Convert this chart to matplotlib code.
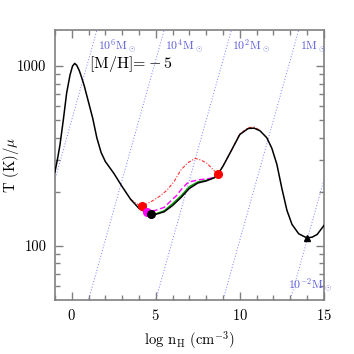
import matplotlib
matplotlib.use("Agg")
import matplotlib.pyplot as plt
import numpy as np
from matplotlib.ticker import FixedLocator, NullFormatter, FuncFormatter

plt.rcParams['font.family'] = ['cmr10', 'DejaVu Serif']
plt.rcParams['mathtext.fontset'] = 'cm'
plt.rcParams['axes.formatter.use_mathtext'] = True

# ---- data (log n_H, T/mu) ----
black_x = [-1.0, -0.85, -0.7, -0.5, -0.3, -0.1, 0.05, 0.18, 0.3, 0.45, 0.6, 0.75, 1.0,
           1.25, 1.5, 1.75, 2.0, 2.5, 3.0, 3.5, 4.0, 4.5, 5.0, 5.5, 6.0, 6.5, 7.0,
           7.5, 8.0, 8.5, 8.7, 9.0, 9.5, 10.0, 10.5, 10.85, 11.2, 11.6, 11.9, 12.2,
           12.5, 12.8, 13.1, 13.5, 13.98, 14.3, 14.6, 15.0]
black_T = [257, 302, 363, 500, 708, 891, 1000, 1035, 1010, 945, 860, 775, 631,
           513, 398, 331, 295, 254, 214, 182, 162, 152, 150, 155, 168, 186, 209,
           224, 230, 240, 251, 278, 340, 417, 450, 452, 437, 400, 350, 285,
           209, 158, 132, 117, 111, 112, 116, 130]

red_x = [3.5, 3.9, 4.19, 4.5, 4.88, 5.3, 5.68, 6.1, 6.47, 6.9, 7.35, 7.7, 8.05, 8.4, 8.68,
         9.0, 9.5, 10.0, 10.5, 10.85, 11.2]
red_T = [182, 171, 167, 172, 180, 191, 205, 229, 263, 290, 307, 300, 288, 266, 251,
         278, 340, 420, 455, 458, 440]

mag_x = [4.3, 4.49, 5.0, 5.5, 6.0, 6.27, 6.47, 6.86, 7.06, 7.65, 8.05, 8.44, 8.68]
mag_T = [153, 155, 158, 164, 182, 192, 204, 223, 228, 234, 236, 240, 251]

green_x = [4.69, 5.0, 5.5, 6.0, 6.5, 7.0, 7.5, 8.0, 8.5, 8.7]
green_T = [151, 151, 157, 172, 190, 214, 227, 232, 241, 251]

red_pts_x = [4.19, 8.68]
red_pts_T = [167, 251]
mag_pt = (4.49, 155)
black_pt = (4.69, 151)
tri_pt = (13.98, 111)

jeans_masses = [1e6, 1e4, 1e2, 1.0, 1e-2]
jeans_labels = [r'10$^6$M$_\odot$', r'10$^4$M$_\odot$', r'10$^2$M$_\odot$', r'1M$_\odot$', r'10$^{-2}$M$_\odot$']
jeans_const = 3.9  # log n = 3 log T - 2 log M + const

fig = plt.figure(figsize=(3.54, 3.54), dpi=100)
ax = fig.add_axes([0.155, 0.1525, 0.76, 0.7625])

xmin, xmax = -1, 15
ymin, ymax = 10**1.7, 10**3.2

# Jeans mass lines
ln = np.array([xmin - 5, xmax + 5])
for m in jeans_masses:
    lt = (ln + 2*np.log10(m) - jeans_const) / 3.0
    ax.plot(ln, 10**lt, ls=(0, (1, 2)), color='#7b7bff', lw=0.7, zorder=1)

blue = '#5a5ad8'
lab_pos = [(1.55, 10**3.11), (5.55, 10**3.11), (9.55, 10**3.11), (13.55, 10**3.11)]
for (xx, yy), t in zip(lab_pos, jeans_labels[:4]):
    ax.text(xx, yy, t, color=blue, fontsize=8.5, ha='left', va='center')
ax.text(12.85, 10**1.78, jeans_labels[4], color=blue, fontsize=8.5, ha='left', va='center')

ax.plot(red_x, red_T, color='#ff3030', lw=0.8, ls=(0, (3, 1.5, 1, 1.5)), zorder=2)
ax.plot(green_x, green_T, color='#00a000', lw=1.0, zorder=3)
ax.plot(mag_x, mag_T, color='#ff00ff', lw=1.0, ls=(0, (4, 2)), zorder=3)
ax.plot(black_x, black_T, color='black', lw=1.1, zorder=4)

ax.plot(red_pts_x, red_pts_T, 'o', color='red', ms=5.5, zorder=5)
ax.plot([mag_pt[0]], [mag_pt[1]], 'o', color='#ff00ff', ms=5.5, zorder=5)
ax.plot([black_pt[0]], [black_pt[1]], 'o', color='black', ms=5.5, zorder=6)
ax.plot([tri_pt[0]], [tri_pt[1]], '^', color='black', ms=4.5, zorder=6)

ax.text(1.05, 10**3.01, r'$[\mathrm{M/H}]\!=\!-5$', fontsize=11.5, ha='left', va='center')

ax.set_yscale('log')
ax.set_xlim(xmin, xmax)
ax.set_ylim(ymin, ymax)

ax.xaxis.set_major_locator(FixedLocator([0, 5, 10, 15]))
ax.xaxis.set_minor_locator(FixedLocator(list(range(-1, 16))))
ax.yaxis.set_major_locator(FixedLocator([100, 1000]))
ax.yaxis.set_minor_locator(FixedLocator([60, 70, 80, 90, 200, 300, 400, 500, 600, 700, 800, 900]))
ax.yaxis.set_major_formatter(FuncFormatter(lambda v, p: '%d' % v))
ax.yaxis.set_minor_formatter(NullFormatter())

frame = '#808080'
for s in ax.spines.values():
    s.set_color(frame)
    s.set_linewidth(1.2)
ax.tick_params(which='both', direction='in', top=True, right=True, color=frame, width=1.0)
ax.tick_params(which='major', length=6, labelsize=10.5, pad=6)
ax.tick_params(which='minor', length=3.5)

ax.set_xlabel(r'log n$_{\rm H}$ (cm$^{-3}$)', fontsize=10.5, labelpad=4)
ax.set_ylabel(r'T (K)/$\mu$', fontsize=10.5)
ax.yaxis.set_label_coords(-0.125, 0.5)

fig.savefig('out.png', dpi=100)
